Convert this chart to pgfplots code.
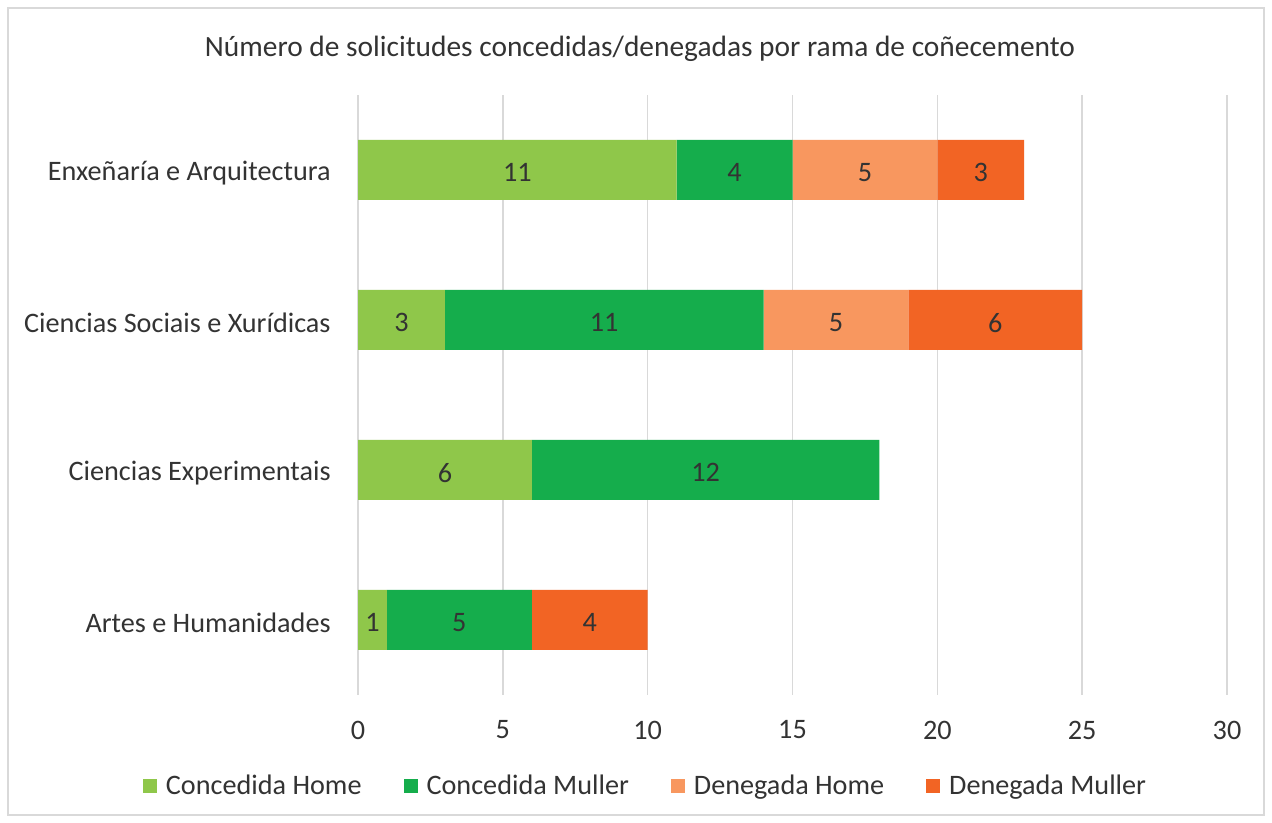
\documentclass[border=0pt]{standalone}
\usepackage{pgfplots}
\pgfplotsset{compat=1.18}
\usepackage{fontspec}
\setmainfont{Carlito}
\definecolor{cgA}{HTML}{8FC74A}
\definecolor{cgB}{HTML}{15AD4C}
\definecolor{coA}{HTML}{F8975F}
\definecolor{coB}{HTML}{F26424}
\definecolor{txt}{HTML}{333333}
\definecolor{gridc}{HTML}{D9D9D9}
\newcommand{\ff}{\fontsize{14.1}{16.5}\selectfont}
\begin{document}
\begin{tikzpicture}
\fill[white] (0pt,0pt) rectangle (636pt,411.5pt);
\draw[gridc, line width=0.75pt] (4pt,4pt) rectangle (632pt,407.5pt);
\node[font=\fontsize{14.7}{17}\selectfont, text=txt] at (320pt,387pt) {Número de solicitudes concedidas/denegadas por rama de coñecemento};
\begin{axis}[
  at={(179pt,64pt)}, anchor=south west,
  scale only axis, width=434.5pt, height=300pt,
  xbar stacked, bar width=30pt,
  xmin=0, xmax=30, ymin=-0.5, ymax=3.5,
  ytick={0,1,2,3},
  yticklabels={Artes e Humanidades, Ciencias Experimentais, Ciencias Sociais e Xurídicas, Enxeñaría e Arquitectura},
  xtick={0,5,...,30},
  axis line style={draw=none},
  tick style={draw=none},
  xmajorgrids, grid style={gridc, line width=0.75pt},
  /pgf/number format/assume math mode=true,
  tick label style={font=\ff, text=txt},
  xticklabel style={anchor=center, yshift=-17.5pt},
  yticklabel style={anchor=east, inner sep=0pt, xshift=-13.5pt, yshift=-1.3pt},
  visualization depends on={rawx \as \myx},
  nodes near coords={\ifdim\myx pt>0.5pt\relax\pgfmathprintnumber[assume math mode=true]{\myx}\fi},
  every node near coord/.append style={anchor=center, font=\ff, text=txt, yshift=-1.3pt},
  legend columns=4,
  legend style={at={(0.332,-0.152)}, anchor=center, draw=none, fill=none, font=\ff, text=txt,
    /tikz/every odd column/.append style={column sep=2.5pt},
    /tikz/every even column/.append style={column sep=19pt}},
  legend image code/.code={\fill[#1] (0pt,-3.5pt) rectangle (7pt,3.5pt);},
]
\addplot[fill=cgA, draw=none] coordinates {(1,0) (6,1) (3,2) (11,3)};
\addlegendentry{Concedida Home}
\addplot[fill=cgB, draw=none] coordinates {(5,0) (12,1) (11,2) (4,3)};
\addlegendentry{Concedida Muller}
\addplot[fill=coA, draw=none] coordinates {(0,0) (0,1) (5,2) (5,3)};
\addlegendentry{Denegada Home}
\addplot[fill=coB, draw=none] coordinates {(4,0) (0,1) (6,2) (3,3)};
\addlegendentry{Denegada Muller}
\end{axis}
\end{tikzpicture}
\end{document}
